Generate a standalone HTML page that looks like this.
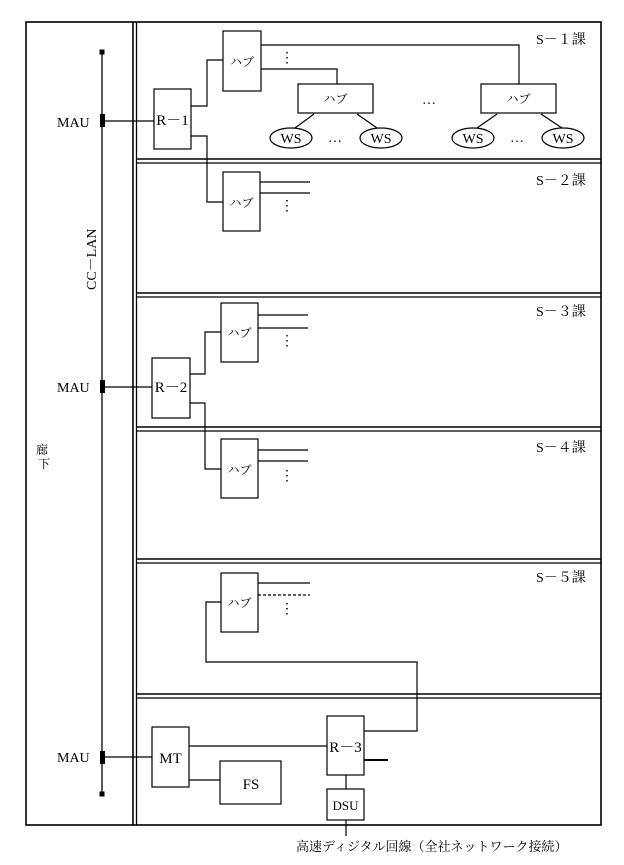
<!DOCTYPE html>
<html><head><meta charset="utf-8"><style>
html,body{margin:0;padding:0;background:#fff;}
svg{display:block;}
text{font-family:"Liberation Serif","Noto Serif CJK SC","Noto Sans CJK JP",serif;fill:#000;}
</style></head><body>
<svg width="624" height="865" viewBox="0 0 624 865" xmlns="http://www.w3.org/2000/svg">
<g stroke="#000" fill="none" stroke-width="1.3">
<rect x="26" y="22" width="575" height="803" stroke-width="1.6"/>
<line x1="133" y1="22" x2="133" y2="825" stroke-width="1.6"/>
<line x1="136.5" y1="22" x2="136.5" y2="825"/>
<line x1="136" y1="159" x2="601" y2="159" stroke-width="1.6"/><line x1="136" y1="163" x2="601" y2="163"/>
<line x1="136" y1="293" x2="601" y2="293" stroke-width="1.6"/><line x1="136" y1="297" x2="601" y2="297"/>
<line x1="136" y1="427" x2="601" y2="427" stroke-width="1.6"/><line x1="136" y1="431" x2="601" y2="431"/>
<line x1="136" y1="559" x2="601" y2="559" stroke-width="1.6"/><line x1="136" y1="563" x2="601" y2="563"/>
<line x1="136" y1="694" x2="601" y2="694" stroke-width="1.6"/><line x1="136" y1="698" x2="601" y2="698"/>
<line x1="102" y1="52" x2="102" y2="794"/>
</g>
<g fill="#000">
<rect x="99.5" y="49.5" width="5" height="5"/>
<rect x="99.5" y="791.5" width="5" height="5"/>
<rect x="100" y="114" width="5" height="13"/>
<rect x="100" y="380" width="5" height="13"/>
<rect x="100" y="751" width="5" height="13"/>
</g>
<g stroke="#000" fill="none" stroke-width="1.2">
<line x1="105" y1="121" x2="154" y2="121"/>
<rect x="154" y="89" width="37" height="60"/>
<rect x="223" y="31" width="38" height="60"/>
<polyline points="191,106 207,106 207,60 223,60"/>
<polyline points="261,45 519,45 519,84"/>
<polyline points="261,69 337,69 337,84"/>
<rect x="298" y="84" width="75" height="29"/>
<rect x="481" y="84" width="75" height="29"/>
<ellipse cx="291" cy="138" rx="21" ry="10"/>
<ellipse cx="381" cy="138" rx="21" ry="10"/>
<ellipse cx="473" cy="138" rx="21" ry="10"/>
<ellipse cx="563" cy="138" rx="21" ry="10"/>
<line x1="314" y1="114" x2="295" y2="128"/>
<line x1="357" y1="114" x2="377" y2="128"/>
<line x1="497" y1="114" x2="477" y2="128"/>
<line x1="541" y1="114" x2="562" y2="128"/>
<polyline points="191,136 207,136 207,202 223,202"/>
<rect x="223" y="172" width="37" height="59"/>
<line x1="260" y1="182" x2="310" y2="182"/>
<line x1="260" y1="193" x2="310" y2="193"/>
<line x1="105" y1="387" x2="152" y2="387"/>
<rect x="152" y="358" width="38" height="60"/>
<rect x="221" y="303" width="37" height="59"/>
<polyline points="190,374 205,374 205,332 221,332"/>
<line x1="258" y1="315" x2="308" y2="315"/>
<line x1="258" y1="328" x2="308" y2="328"/>
<polyline points="190,403 205,403 205,469 221,469"/>
<rect x="221" y="439" width="37" height="59"/>
<line x1="258" y1="450" x2="308" y2="450"/>
<line x1="258" y1="461" x2="308" y2="461"/>
<rect x="221" y="573" width="37" height="59"/>
<line x1="258" y1="583" x2="310" y2="583"/>
<line x1="258" y1="595" x2="310" y2="595" stroke-dasharray="3,2"/>
<polyline points="221,602 206,602 206,662 417,662 417,731 364,731"/>
<line x1="105" y1="757" x2="152" y2="757"/>
<rect x="152" y="727" width="37" height="60"/>
<rect x="327" y="716" width="37" height="59"/>
<line x1="189" y1="746" x2="327" y2="746"/>
<line x1="364" y1="760" x2="388" y2="760" stroke-width="2"/>
<rect x="220" y="761" width="61" height="43"/>
<line x1="189" y1="780" x2="220" y2="780"/>
<rect x="327" y="789" width="37" height="31"/>
<line x1="346" y1="775" x2="346" y2="789"/>
<line x1="346" y1="820" x2="346" y2="836"/>
</g>
<g font-size="14">
<text x="536" y="44">S－１課</text>
<text x="536" y="185">S－２課</text>
<text x="536" y="316">S－３課</text>
<text x="536" y="452">S－４課</text>
<text x="536" y="582">S－５課</text>
<g text-anchor="middle" font-size="15">
<text x="172.5" y="125">R－1</text>
<text x="171" y="392">R－2</text>
<text x="345.5" y="752">R－3</text>
<text x="170.5" y="763">MT</text>
<text x="251" y="789">FS</text>
<text x="345.5" y="810" font-size="13">DSU</text>
</g>
<text x="57" y="127">MAU</text>
<text x="57" y="392">MAU</text>
<text x="57" y="762">MAU</text>
<g font-size="12" text-anchor="middle">
<text x="242" y="66">ハブ</text><text x="335.5" y="103">ハブ</text><text x="518.5" y="103">ハブ</text>
<text x="241.5" y="207">ハブ</text><text x="239.5" y="337">ハブ</text><text x="239.5" y="474">ハブ</text><text x="239.5" y="607">ハブ</text>
</g>
<g font-size="14" text-anchor="middle">
<text x="291" y="143">WS</text><text x="381" y="143">WS</text><text x="473" y="143">WS</text><text x="563" y="143">WS</text>
<text x="335" y="142">…</text><text x="517" y="142">…</text><text x="429" y="104">…</text>
<text x="287" y="62">⋮</text><text x="287" y="210">⋮</text><text x="287" y="345">⋮</text><text x="287" y="480">⋮</text><text x="287" y="613">⋮</text>
</g>
<text transform="translate(96,290) rotate(-90)" font-size="14">CC－LAN</text>
<text x="36" y="454" font-size="12">廊</text><text x="38" y="468" font-size="12">下</text>
<text x="296" y="851" font-size="13">高速ディジタル回線（全社ネットワーク接続）</text>
</g>
</svg>
</body></html>
